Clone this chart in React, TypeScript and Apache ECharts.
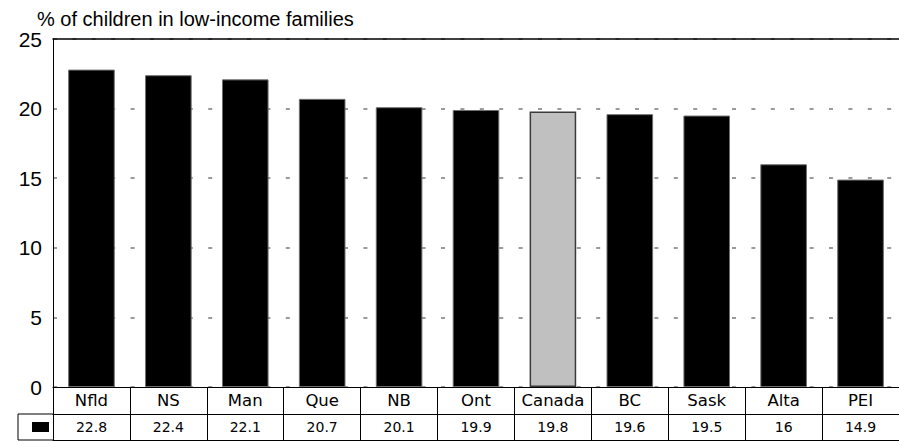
import React, { useEffect, useRef } from "react";
import * as echarts from "echarts";

const categories = ["Nfld", "NS", "Man", "Que", "NB", "Ont", "Canada", "BC", "Sask", "Alta", "PEI"];
const values = [22.8, 22.4, 22.1, 20.7, 20.1, 19.9, 19.8, 19.6, 19.5, 16, 14.9];
const valueLabels = ["22.8", "22.4", "22.1", "20.7", "20.1", "19.9", "19.8", "19.6", "19.5", "16", "14.9"];
const highlight = "Canada";
const titleText = "% of children in low-income families";

const FONT = "'Liberation Sans', Arial, Helvetica, sans-serif";
const WIDE = "'DejaVu Sans', 'Liberation Sans', sans-serif";

export default function App() {
  const ref = useRef<HTMLDivElement>(null);
  useEffect(() => {
    document.body.style.margin = "0";
    const chart = echarts.init(ref.current!, null, { renderer: "svg" });
    const option: any = {
      animation: false,
      backgroundColor: "#ffffff",
      textStyle: { fontFamily: FONT },
      title: {
        text: titleText,
        left: 32,
        top: 4,
        textStyle: { fontFamily: FONT, fontSize: 20, fontWeight: "normal", color: "#000" },
      },
      grid: { left: 53, top: 39, width: 854, height: 348, containLabel: false },
      xAxis: [
        {
          type: "category",
          data: categories,
          position: "bottom",
          axisLine: { show: true, lineStyle: { color: "#000", width: 1 } },
          axisTick: {
            show: true,
            inside: false,
            length: 53,
            alignWithLabel: false,
            lineStyle: { color: "#000", width: 1 },
          },
          axisLabel: {
            interval: 0,
            margin: 0,
            formatter: (v: string, i: number) => `{n|${v}}\n{v|${valueLabels[i]}}`,
            rich: {
              n: { fontFamily: WIDE, fontSize: 16.5, lineHeight: 27, color: "#000", align: "center", verticalAlign: "middle" },
              v: { fontFamily: WIDE, fontSize: 14, lineHeight: 26, color: "#000", align: "center", verticalAlign: "middle" },
            },
          },
          splitLine: { show: false },
        },
        {
          type: "category",
          data: categories,
          position: "bottom",
          offset: 27,
          axisLine: { show: true, lineStyle: { color: "#000", width: 1 } },
          axisTick: { show: false },
          axisLabel: { show: false },
        },
        {
          type: "category",
          data: categories,
          position: "bottom",
          offset: 53,
          axisLine: { show: true, lineStyle: { color: "#000", width: 1 } },
          axisTick: { show: false },
          axisLabel: { show: false },
        },
        {
          type: "category",
          data: categories,
          position: "top",
          axisLine: { show: true, lineStyle: { color: "#000", width: 1.5 } },
          axisTick: { show: false },
          axisLabel: { show: false },
        },
      ],
      yAxis: {
        type: "value",
        min: 0,
        max: 25,
        interval: 5,
        axisLine: { show: true, lineStyle: { color: "#000", width: 1 } },
        axisTick: { show: false },
        axisLabel: { fontFamily: FONT, fontSize: 21, color: "#000", margin: 11 },
        splitLine: {
          show: true,
          lineStyle: { color: "#7a7a7a", width: 1.5, type: [4, 15.4], dashOffset: 0 },
        },
      },
      graphic: [
        { type: "line", shape: { x1: 18, y1: 414, x2: 53, y2: 414 }, style: { stroke: "#000", lineWidth: 1 } },
        { type: "line", shape: { x1: 18, y1: 440, x2: 53, y2: 440 }, style: { stroke: "#000", lineWidth: 1 } },
        { type: "line", shape: { x1: 18, y1: 414, x2: 18, y2: 440 }, style: { stroke: "#000", lineWidth: 1 } },
        { type: "rect", shape: { x: 32, y: 422, width: 17, height: 10 }, style: { fill: "#000" } },
      ],
      series: [
        {
          type: "bar",
          xAxisIndex: 0,
          barWidth: "60.6%",
          data: values.map((v, i) => ({
            value: v,
            itemStyle:
              categories[i] === highlight
                ? { color: "#c0c0c0", borderColor: "#3a3a3a", borderWidth: 1.5 }
                : { color: "#000", borderColor: "#6e6e6e", borderWidth: 1 },
          })),
        },
      ],
    };
    chart.setOption(option);
    return () => chart.dispose();
  }, []);
  return <div ref={ref} style={{ width: 899, height: 441, position: "absolute", left: 0, top: 0 }} />;
}
